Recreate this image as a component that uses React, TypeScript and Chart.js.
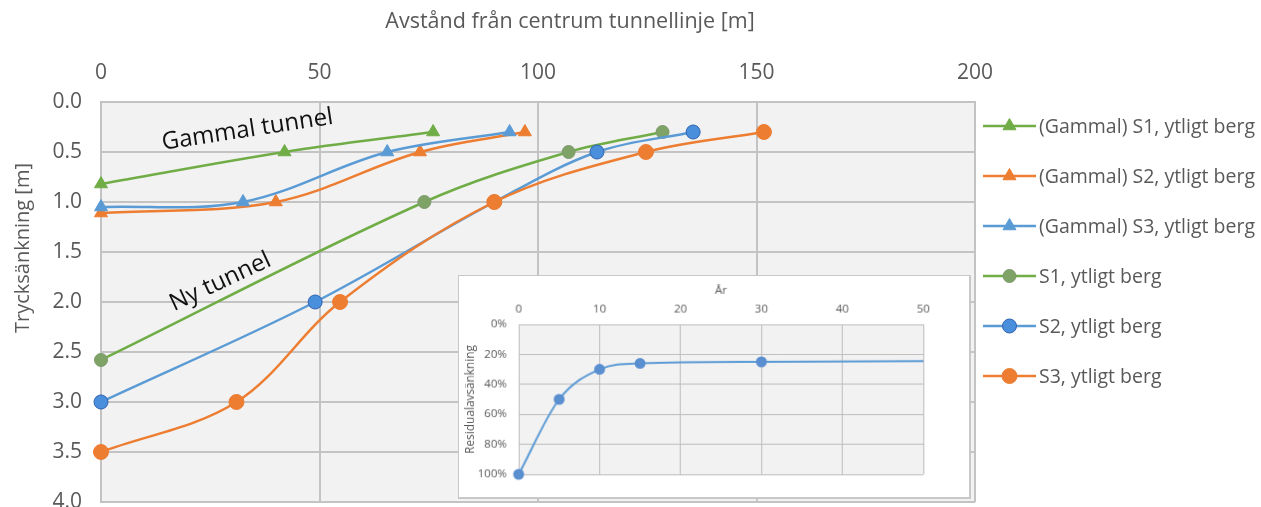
import React, { useEffect, useRef } from 'react';
import { Chart, registerables } from 'chart.js';
import { drawPoint } from 'chart.js/helpers';

Chart.register(...registerables);

// ---------- Main chart data ----------
const seriesLabels = [
  '(Gammal) S1, ytligt berg',
  '(Gammal) S2, ytligt berg',
  '(Gammal) S3, ytligt berg',
  'S1, ytligt berg',
  'S2, ytligt berg',
  'S3, ytligt berg',
];
const gammalS1X = [0, 42, 76];
const gammalS1Y = [0.82, 0.5, 0.3];
const gammalS2X = [0, 40, 73, 97];
const gammalS2Y = [1.11, 1.0, 0.5, 0.3];
const gammalS3X = [0, 32.5, 65.5, 93.5];
const gammalS3Y = [1.05, 1.0, 0.5, 0.3];
const s1X = [0, 74, 107, 128.5];
const s1Y = [2.58, 1.0, 0.5, 0.3];
const s2X = [0, 49, 90, 113.5, 135.5];
const s2Y = [3.0, 2.0, 1.0, 0.5, 0.3];
const s3X = [0, 31, 54.7, 90, 124.7, 151.7];
const s3Y = [3.5, 3.0, 2.0, 1.0, 0.5, 0.3];

const xMin = 0;
const xMax = 200;
const xStep = 50;
const yMin = 0;
const yMax = 4;
const yStep = 0.5;

const xTitle = 'Avstånd från centrum tunnellinje [m]';
const yTitle = 'Trycksänkning [m]';
const annotGammal = { text: 'Gammal tunnel', x: 33.5, y: 0.28, angle: -8.7 };
const annotNy = { text: 'Ny tunnel', x: 27.3, y: 1.8, angle: -25 };

// ---------- Inset data ----------
const insetYears = [0, 5, 10, 15, 30, 50];
const insetResidual = [100, 50, 30, 26, 25, 24.5];
const insetMarkerShown = [true, true, true, true, true, false];
const insetXTitle = 'År';
const insetYTitle = 'Residualavsänkning';

const GREEN = '#70ad47';
const ORANGE = '#ed7d31';
const BLUE = '#5b9bd5';
const TEXT = '#595959';
const GRID = '#c3c3c3';
const FONT = "'Open Sans', sans-serif";

const toPts = (xs: number[], ys: number[]) => xs.map((x, i) => ({ x, y: ys[i] }));

const plotBg = {
  id: 'plotBg',
  beforeDraw(chart: any) {
    const { ctx, chartArea: a } = chart;
    ctx.save();
    ctx.fillStyle = '#ffffff';
    ctx.fillRect(0, 0, chart.width, chart.height);
    ctx.fillStyle = '#f2f2f2';
    ctx.fillRect(a.left, a.top, a.right - a.left, a.bottom - a.top);
    ctx.restore();
  },
};

const sideLegend = {
  id: 'sideLegend',
  afterDraw(chart: any) {
    const { ctx, chartArea: a } = chart;
    const spacing = 50;
    const x0 = a.right + 8;
    const lineLen = 53;
    const yStart = a.top + 24;
    ctx.save();
    chart.data.datasets.forEach((ds: any, i: number) => {
      const y = yStart + i * spacing;
      ctx.strokeStyle = ds.borderColor;
      ctx.lineWidth = ds.borderWidth;
      ctx.beginPath();
      ctx.moveTo(x0, y);
      ctx.lineTo(x0 + lineLen, y);
      ctx.stroke();
      ctx.fillStyle = ds.pointBackgroundColor;
      ctx.strokeStyle = ds.pointBorderColor;
      ctx.lineWidth = ds.pointBorderWidth;
      drawPoint(ctx, { pointStyle: ds.pointStyle, radius: ds.pointRadius, rotation: 0, borderWidth: ds.pointBorderWidth } as any, x0 + lineLen / 2, y);
      ctx.fillStyle = TEXT;
      ctx.font = `19.5px ${FONT}`;
      ctx.textAlign = 'left';
      ctx.textBaseline = 'middle';
      ctx.fillText(ds.label, x0 + lineLen + 3, y + 1);
    });
    ctx.restore();
  },
};

const textAnnotations = {
  id: 'textAnnotations',
  afterDatasetsDraw(chart: any) {
    const { ctx, scales } = chart;
    ctx.save();
    ctx.fillStyle = '#111111';
    ctx.font = `24px ${FONT}`;
    ctx.textAlign = 'center';
    ctx.textBaseline = 'middle';
    [annotGammal, annotNy].forEach((an) => {
      const px = scales.x.getPixelForValue(an.x);
      const py = scales.y.getPixelForValue(an.y);
      ctx.save();
      ctx.translate(px, py);
      ctx.rotate((an.angle * Math.PI) / 180);
      ctx.fillText(an.text, 0, 0);
      ctx.restore();
    });
    const a = chart.chartArea;
    ctx.fillStyle = TEXT;
    // x axis title (offset to the right like the original)
    ctx.font = `21.5px ${FONT}`;
    ctx.fillText(xTitle, a.left + 469, 22);
    // y axis title
    ctx.font = `20px ${FONT}`;
    ctx.translate(23, a.top + 146);
    ctx.rotate(-Math.PI / 2);
    ctx.fillText(yTitle, 0, 0);
    ctx.restore();
  },
};

function MainChart() {
  const ref = useRef<HTMLCanvasElement | null>(null);
  useEffect(() => {
    if (!ref.current) return;
    const mk = (label: string, xs: number[], ys: number[], color: string, style: string, pbg: string, pborder: string, radius: number, order: number) => ({
      label,
      data: toPts(xs, ys),
      borderColor: color,
      backgroundColor: color,
      borderWidth: 2.5,
      pointStyle: style,
      pointRadius: radius,
      pointBackgroundColor: pbg,
      pointBorderColor: pborder,
      pointBorderWidth: 1,
      tension: 0.35,
      showLine: true,
      fill: false,
      clip: false,
      order,
    });
    const chart = new Chart(ref.current, {
      type: 'scatter',
      data: {
        datasets: [
          mk(seriesLabels[0], gammalS1X, gammalS1Y, GREEN, 'triangle', GREEN, GREEN, 7.5, 6),
          mk(seriesLabels[1], gammalS2X, gammalS2Y, ORANGE, 'triangle', ORANGE, ORANGE, 7.5, 5),
          mk(seriesLabels[2], gammalS3X, gammalS3Y, BLUE, 'triangle', BLUE, BLUE, 7.5, 4),
          mk(seriesLabels[3], s1X, s1Y, GREEN, 'circle', '#7fa267', '#7d9a6c', 6.5, 3),
          mk(seriesLabels[4], s2X, s2Y, BLUE, 'circle', '#4a8fdc', '#2f62b0', 7, 2),
          mk(seriesLabels[5], s3X, s3Y, ORANGE, 'circle', ORANGE, ORANGE, 7.5, 1),
        ] as any,
      },
      options: {
        animation: false,
        responsive: false,
        layout: { autoPadding: false, padding: { left: 0, top: 0, right: 286, bottom: 5 } },
        plugins: { legend: { display: false }, tooltip: { enabled: false } },
        scales: {
          x: {
            type: 'linear',
            position: 'top',
            min: xMin,
            max: xMax,
            ticks: { stepSize: xStep, color: TEXT, font: { family: FONT, size: 21 }, padding: 16 },
            grid: { color: GRID, lineWidth: 2, drawTicks: false },
            border: { color: GRID, width: 2 },
            afterFit: (s: any) => { s.height = 102; },
          },
          y: {
            type: 'linear',
            reverse: true,
            min: yMin,
            max: yMax,
            ticks: { stepSize: yStep, color: TEXT, font: { family: FONT, size: 21 }, padding: 19, callback: (v: any) => Number(v).toFixed(1) },
            grid: { color: GRID, lineWidth: 2, drawTicks: false },
            border: { color: GRID, width: 2 },
            afterFit: (s: any) => { s.width = 101; s.paddingTop = 0; s.paddingBottom = 0; },
          },
        },
      } as any,
      plugins: [plotBg, textAnnotations, sideLegend],
    });
    return () => chart.destroy();
  }, []);
  return <canvas ref={ref} width={1261} height={507} style={{ position: 'absolute', left: 0, top: 0 }} />;
}

function InsetChart() {
  const ref = useRef<HTMLCanvasElement | null>(null);
  useEffect(() => {
    if (!ref.current) return;
    const chart = new Chart(ref.current, {
      type: 'scatter',
      data: {
        datasets: [
          {
            label: insetYTitle,
            data: toPts(insetYears, insetResidual),
            borderColor: BLUE,
            backgroundColor: BLUE,
            borderWidth: 2,
            showLine: true,
            clip: false,
            cubicInterpolationMode: 'monotone',
            pointRadius: insetMarkerShown.map((m) => (m ? 4.5 : 0)),
            pointBackgroundColor: '#5a8fd0',
            pointBorderColor: '#5a8fd0',
          },
        ] as any,
      },
      options: {
        animation: false,
        responsive: false,
        layout: { autoPadding: false, padding: { left: 0, top: 0, right: 46, bottom: 23 } },
        plugins: { legend: { display: false }, tooltip: { enabled: false } },
        scales: {
          x: {
            type: 'linear',
            position: 'top',
            min: 0,
            max: 50,
            ticks: { stepSize: 10, color: TEXT, font: { family: FONT, size: 11.5 }, padding: 8 },
            grid: { color: '#bdbdbd', lineWidth: 1, drawTicks: false },
            border: { color: '#bdbdbd', width: 1 },
            title: { display: true, text: insetXTitle, color: TEXT, font: { family: FONT, size: 11.5 }, padding: { top: 8, bottom: 0 } },
            afterFit: (s: any) => { s.height = 49; },
          },
          y: {
            type: 'linear',
            reverse: true,
            min: 0,
            max: 100,
            ticks: { stepSize: 20, color: TEXT, font: { family: FONT, size: 11.5 }, padding: 12, callback: (v: any) => `${v}%` },
            grid: { color: '#bdbdbd', lineWidth: 1, drawTicks: false },
            border: { color: '#bdbdbd', width: 1 },
            title: { display: true, text: insetYTitle, color: TEXT, font: { family: FONT, size: 12 }, padding: { top: 4, bottom: 0 } },
            afterFit: (s: any) => { s.width = 60; s.paddingTop = 0; s.paddingBottom = 0; },
          },
        },
      } as any,
      plugins: [plotBg],
    });
    return () => chart.destroy();
  }, []);
  return (
    <canvas
      ref={ref}
      width={513}
      height={224}
      style={{ position: 'absolute', left: 458, top: 275, border: '1px solid #c8c8c8', borderRightWidth: 2, borderBottomWidth: 2 }}
    />
  );
}

export default function App() {
  return (
    <div style={{ position: 'absolute', left: 0, top: 0, width: 1261, height: 507, overflow: 'hidden', background: '#fff' }}>
      <MainChart />
      <InsetChart />
    </div>
  );
}
